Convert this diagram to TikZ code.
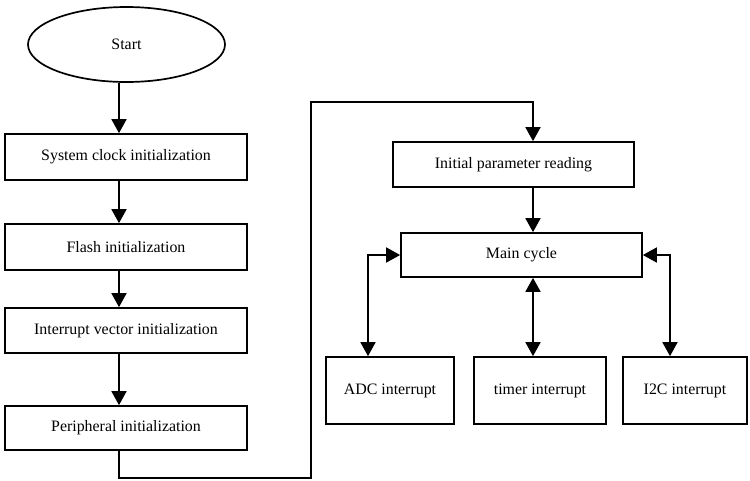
\documentclass[tikz,border=0pt]{standalone}
\usepackage{fontspec}
\setmainfont{Liberation Serif}
\usetikzlibrary{arrows.meta,shapes.geometric}
\begin{document}
\begin{tikzpicture}[x=1pt,y=-1pt,
  box/.style={draw,line width=1.7pt,inner sep=0pt,font=\fontsize{15.9}{18}\selectfont},
  conn/.style={line width=1.7pt,-{Triangle[length=14pt,width=15pt]}},
  conn2/.style={line width=1.7pt,{Triangle[length=14pt,width=15pt]}-{Triangle[length=14pt,width=15pt]}}]
\useasboundingbox (0,0) rectangle (750,480);
\node[box,ellipse,minimum width=197pt,minimum height=75pt] (start) at (126.5,44.5) {Start};
\node[box,minimum width=242pt,minimum height=46pt] (sys) at (126,157) {System clock initialization};
\node[box,minimum width=242pt,minimum height=46pt] (flash) at (126,247) {Flash initialization};
\node[box,minimum width=242pt,minimum height=45pt] (ivec) at (126,330.5) {Interrupt vector initialization};
\node[box,minimum width=242pt,minimum height=44pt] (peri) at (126,428) {Peripheral initialization};
\node[box,minimum width=241pt,minimum height=45pt] (init) at (513.5,164.5) {Initial parameter reading};
\node[box,minimum width=241pt,minimum height=44pt] (main) at (521.5,255) {Main cycle};
\node[box,minimum width=128pt,minimum height=67pt] (adc) at (390,390.5) {ADC interrupt};
\node[box,minimum width=132pt,minimum height=67pt] (timer) at (540,390.5) {timer interrupt};
\node[box,minimum width=124pt,minimum height=67pt] (i2c) at (685,390.5) {I2C interrupt};
\coordinate (pl) at (119,478);
\coordinate (pr) at (311,478);
\coordinate (tl) at (311,102);
\coordinate (tr) at (533,102);
\draw[conn] ([xshift=-7.5pt]start.south) -- ([xshift=-7pt]sys.north);
\draw[conn] ([xshift=-7pt]sys.south) -- ([xshift=-7pt]flash.north);
\draw[conn] ([xshift=-7pt]flash.south) -- ([xshift=-7pt]ivec.north);
\draw[conn] ([xshift=-7pt]ivec.south) -- ([xshift=-7pt]peri.north);
\draw[conn] ([xshift=-7pt]peri.south) -- (pl) -- (pr) -- (tl) -- (tr) -- (tr |- init.north);
\draw[conn] ([xshift=19.5pt]init.south) -- ([xshift=11.5pt]main.north);
\draw[conn2] (main.west) -| ([xshift=-22pt]adc.north);
\draw[conn2] ([xshift=11.5pt]main.south) -- ([xshift=-7pt]timer.north);
\draw[conn2] (main.east) -| ([xshift=-15pt]i2c.north);
\end{tikzpicture}
\end{document}
